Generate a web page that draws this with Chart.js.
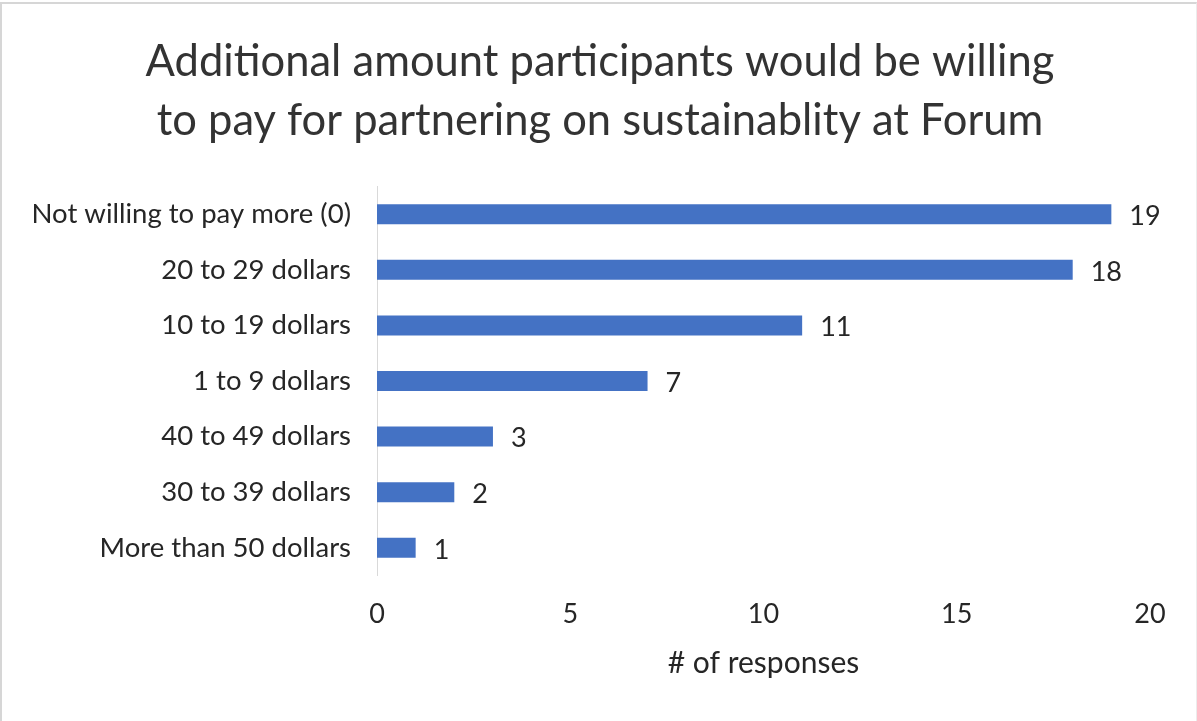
<!DOCTYPE html>
<html>
<head>
<meta charset="utf-8">
<script src="https://cdn.jsdelivr.net/npm/chart.js@4/dist/chart.umd.min.js"></script>
<style>
  html, body { margin: 0; padding: 0; background: #fff; }
  #wrap {
    position: relative;
    width: 1197px; height: 721px;
    box-sizing: border-box;
    border-top: 2px solid #d6d6d6;
    border-left: 2px solid #d6d6d6;
    border-right: 1px solid #ececec;
    margin-top: 2px;
  }
  canvas { position: absolute; left: 0; top: 0; }
</style>
</head>
<body>
<div id="wrap"><canvas id="chart" width="1194" height="719"></canvas></div>
<script>
const categories = [
  'Not willing to pay more (0)',
  '20 to 29 dollars',
  '10 to 19 dollars',
  '1 to 9 dollars',
  '40 to 49 dollars',
  '30 to 39 dollars',
  'More than 50 dollars'
];
const responses = [19, 18, 11, 7, 3, 2, 1];
const xTicks = [0, 5, 10, 15, 20];

const textColor = '#262626';
const fontFamily = 'Lato, "Open Sans", sans-serif';

// value labels placed just past the end of each bar
const barValues = {
  id: 'barValues',
  afterDatasetsDraw(chart) {
    const ctx = chart.ctx;
    const meta = chart.getDatasetMeta(0);
    ctx.save();
    ctx.fillStyle = textColor;
    ctx.font = '27px ' + fontFamily;
    ctx.textAlign = 'left';
    ctx.textBaseline = 'middle';
    meta.data.forEach((bar, i) => {
      ctx.fillText(String(responses[i]), bar.x + 18, bar.y + 2);
    });
    ctx.restore();
  }
};

// centre the title on the whole canvas instead of the padded area
const titleShift = {
  id: 'titleShift',
  afterLayout(chart) {
    const t = chart.titleBlock;
    if (t) { t.left += 20; t.right += 20; }
  }
};

new Chart(document.getElementById('chart'), {
  type: 'bar',
  data: {
    labels: categories,
    datasets: [{
      data: responses,
      backgroundColor: '#4472C4',
      barPercentage: 0.9,
      categoryPercentage: 0.4
    }]
  },
  options: {
    indexAxis: 'y',
    responsive: false,
    animation: false,
    layout: { padding: { left: 8, right: 46, top: 0, bottom: 42 } },
    plugins: {
      legend: { display: false },
      tooltip: { enabled: false },
      title: {
        display: true,
        text: ['Additional amount participants would be willing', 'to pay for partnering on sustainablity at Forum'],
        color: '#333333',
        font: { family: fontFamily, size: 43.5, weight: 'normal', lineHeight: 1.35 },
        padding: { top: 29, bottom: 36 }
      }
    },
    scales: {
      x: {
        min: 0,
        max: 20,
        afterBuildTicks(axis) { axis.ticks = xTicks.map(v => ({ value: v })); },
        grid: { display: false, drawTicks: false },
        border: { display: false },
        ticks: { color: textColor, font: { family: fontFamily, size: 27 }, padding: 22 },
        title: {
          display: true,
          text: '# of responses',
          color: textColor,
          font: { family: fontFamily, size: 30 },
          padding: { top: -7, bottom: 0 }
        }
      },
      y: {
        grid: { display: false, drawTicks: false },
        border: { display: true, color: '#d9d9d9', width: 1 },
        ticks: { color: textColor, font: { family: fontFamily, size: 27.5 }, padding: 26 },
        afterFit(axis) { axis.width = 367; }
      }
    }
  },
  plugins: [barValues, titleShift]
});
</script>
</body>
</html>
